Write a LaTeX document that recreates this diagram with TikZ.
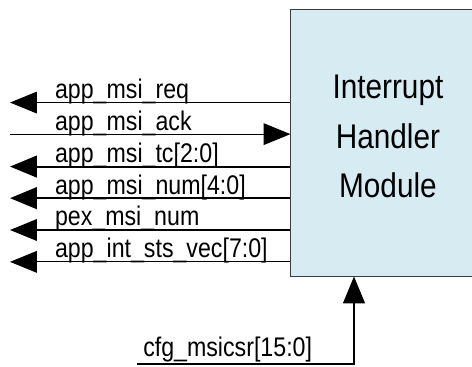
\documentclass[tikz,border=0pt]{standalone}
\usepackage{fontspec}
\setmainfont{Liberation Sans}
\usetikzlibrary{arrows.meta, calc}
\definecolor{modfill}{RGB}{214,236,242}
\definecolor{modline}{RGB}{60,60,60}

\begin{document}
\begin{tikzpicture}[
    sig/.style={line width=1pt},
    bus/.style={line width=2pt},
    tip/.style={-{Triangle[length=26pt, width=21pt]}},
    siglabel/.style={anchor=base west, inner sep=0pt, xscale=0.86, transform shape,
                     font=\fontsize{26}{28}\selectfont},
]

\path[use as bounding box] (0,0) rectangle (16,12.407);

% ════════════════════════════════════════════════════════
% 1. MODULE BOX
% ════════════════════════════════════════════════════════
\node[draw=modline, fill=modfill, line width=0.8pt,
      minimum width=6.64cm, minimum height=9.05cm, inner sep=0pt]
    (ihm) at (13.18, 7.575) {};
\node[align=center, xscale=0.87, transform shape, font=\fontsize{33}{48}\selectfont]
    (ihmtext) at (13.15, 7.78) {Interrupt\\Handler\\Module};

% ════════════════════════════════════════════════════════
% 2. LEFT SIDE SIGNALS
% ════════════════════════════════════════════════════════
\coordinate (req)  at (0.34, 8.93);
\coordinate (ack)  at (0.34, 7.86);
\coordinate (tc)   at (0.34, 6.76);
\coordinate (num)  at (0.34, 5.69);
\coordinate (pex)  at (0.34, 4.61);
\coordinate (vec)  at (0.34, 3.53);

% Outputs (arrow to the left)
\draw[sig, tip] (req -| ihm.west) -- (req);
\draw[sig, tip] (ack) -- (ack -| ihm.west);
\draw[bus, tip] (tc -| ihm.west)  -- (tc);
\draw[bus, tip] (num -| ihm.west) -- (num);
\draw[sig, tip] (pex -| ihm.west) -- (pex);
\draw[sig, tip] (vec -| ihm.west) -- (vec);

% Labels above each line
\node[siglabel] (reqlab) at ($(req)+(1.52,0.14)$) {app\_msi\_req};
\node[siglabel] (acklab) at ($(ack)+(1.52,0.14)$) {app\_msi\_ack};
\node[siglabel] (tclab)  at ($(tc)+(1.52,0.14)$)  {app\_msi\_tc[2:0]};
\node[siglabel] (numlab) at ($(num)+(1.52,0.14)$) {app\_msi\_num[4:0]};
\node[siglabel] (pexlab) at ($(pex)+(1.52,0.14)$) {pex\_msi\_num};
\node[siglabel] (veclab) at ($(vec)+(1.52,0.14)$) {app\_int\_sts\_vec[7:0]};

% ════════════════════════════════════════════════════════
% 3. BOTTOM INPUT
% ════════════════════════════════════════════════════════
\coordinate (csr) at (4.64, 0.07);
\coordinate (csrbend) at (12.0, 0.07);
\draw[bus, tip] (csr) -- (csrbend) -- (csrbend |- ihm.south);
\node[siglabel] (csrlab) at ($(csr)+(0.21,0.24)$) {cfg\_msicsr[15:0]};

\end{tikzpicture}
\end{document}
